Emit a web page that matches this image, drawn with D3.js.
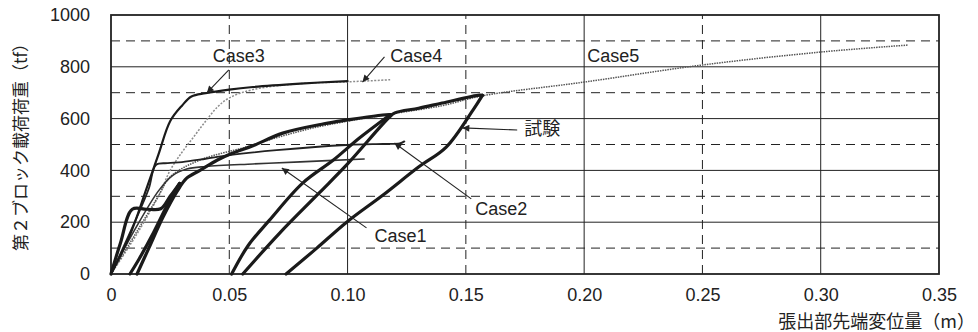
<!DOCTYPE html>
<html>
<head>
<meta charset="utf-8">
<script src="https://d3js.org/d3.v7.min.js"></script>
<style>
  body { margin: 0; background: #fff; }
  text { font-family: "Liberation Sans", Arial, sans-serif; fill: #222; }
  .jp { font-family: "Noto Sans CJK JP", sans-serif; }
</style>
</head>
<body>
<svg id="chart" width="978" height="332"></svg>
<script>
// load–displacement curves, [displacement (m), load (tf)]
// 試験 (test) split into its loading / unloading branches
var testLoad1 = [[0,0],[0.004,120],[0.009,250],[0.015,250],[0.021,252],[0.025,300],[0.029,350]];
var testUnload1 = [[0.029,350],[0.024,270],[0.018,160],[0.012,60],[0.008,0]];
var testLoad2 = [[0.011,0],[0.016,100],[0.022,220],[0.028,320],[0.032,370],[0.0376,400],
  [0.045,440],[0.0515,467],[0.06,495],[0.0726,544],[0.09,580],[0.1,595],[0.1148,614],[0.118,615]];
var testUnload2 = [[0.118,615],[0.105,525],[0.094,440],[0.081,351],[0.067,208],[0.058,110],[0.051,0]];
var testLoad3 = [[0.0557,0],[0.0713,158],[0.088,313],[0.1,425],[0.1177,606],[0.12,622],
  [0.13,640],[0.14,660],[0.1557,691],[0.157,690]];
var testUnload3 = [[0.157,690],[0.153,633],[0.1417,490],[0.13,413],[0.115,305],[0.0996,200],
  [0.087,100],[0.074,0]];
var case1 = [[0,0],[0.01,170],[0.02,320],[0.026,380],[0.032,405],[0.04,415],[0.06,425],
  [0.08,433],[0.107,444]];
var case2 = [[0,0],[0.01,200],[0.016,330],[0.019,421],[0.024,428],[0.03,432],[0.04,445],
  [0.05,459],[0.07,478],[0.0996,498],[0.115,502],[0.122,504],[0.124,512]];
var case3 = [[0,0],[0.008,150],[0.015,330],[0.02,460],[0.025,590],[0.03,650],[0.034,685],
  [0.04,698],[0.05,712],[0.06,722],[0.08,735],[0.1,745]];
var case4 = [[0,0],[0.01,140],[0.02,300],[0.025,400],[0.03,470],[0.035,530],[0.04,590],
  [0.045,645],[0.05,680],[0.06,712],[0.08,735],[0.1,742],[0.118,750]];
var case5 = [[0,0],[0.01,150],[0.02,300],[0.025,375],[0.0376,440],[0.057,490],[0.071,529],
  [0.085,563],[0.1,590],[0.12,620],[0.14,650],[0.157,688],[0.2,741],[0.25,807],[0.3,857],
  [0.337,884]];

var xTicks = [0, 0.05, 0.10, 0.15, 0.20, 0.25, 0.30, 0.35];
var yTicks = [0, 200, 400, 600, 800, 1000];

// labels: [text, x, y] and arrows: [x1, y1, x2, y2] in data units
var labels = [["Case3",0.043,819],["Case4",0.118,819],["Case5",0.2013,819],
  ["試験",0.1747,537],["Case2",0.154,228],["Case1",0.1114,124]];
var arrows = [[0.0498,788,0.0405,699],[0.1156,838,0.1063,741],[0.1717,556,0.1485,564],
  [0.1523,290,0.1198,506],[0.108,178,0.0722,409]];

var svg = d3.select("#chart");
var x = d3.scaleLinear().domain([0, 0.35]).range([111, 939]);
var y = d3.scaleLinear().domain([0, 1000]).range([274, 15]);

// grid: solid at major, dashed at half steps
var g = svg.append("g");
d3.range(100, 1000, 100).forEach(function(v) {
  g.append("line").attr("x1", x(0)).attr("x2", x(0.35)).attr("y1", y(v)).attr("y2", y(v))
    .attr("stroke", "#222").attr("stroke-width", 1)
    .attr("stroke-dasharray", v % 200 ? "9,6" : null);
});
[0.05, 0.10, 0.15, 0.20, 0.25, 0.30].forEach(function(v, i) {
  g.append("line").attr("x1", x(v)).attr("x2", x(v)).attr("y1", y(0)).attr("y2", y(1000))
    .attr("stroke", "#222").attr("stroke-width", 1)
    .attr("stroke-dasharray", i % 2 ? null : "9,6");
});
g.append("rect").attr("x", x(0)).attr("y", y(1000))
  .attr("width", x(0.35) - x(0)).attr("height", y(0) - y(1000))
  .attr("fill", "none").attr("stroke", "#222").attr("stroke-width", 1.8);

// axes (labels only)
var xAxis = svg.append("g").attr("transform", "translate(0," + y(0) + ")")
  .call(d3.axisBottom(x).tickValues(xTicks).tickSize(0).tickPadding(14)
    .tickFormat(function(d) { return d === 0 ? "0" : d3.format(".2f")(d); }));
var yAxis = svg.append("g").attr("transform", "translate(" + x(0) + ",0)")
  .call(d3.axisLeft(y).tickValues(yTicks).tickSize(0).tickPadding(21).tickFormat(d3.format("d")));
[xAxis, yAxis].forEach(function(a) {
  a.select(".domain").remove();
  a.selectAll("text").style("font-size", "18px").attr("fill", "#222")
    .style("font-family", "'Liberation Sans', Arial, sans-serif");
});

// curves
var line = d3.line().curve(d3.curveCatmullRom.alpha(0.5))
  .x(function(d) { return x(d[0]); }).y(function(d) { return y(d[1]); });
var series = [
  {d: case4, c: "#8c8c8c", w: 1.5, dash: "2,1.5"},
  {d: case5, c: "#555", w: 1.5, dash: "1.5,1"},
  {d: case1, c: "#333", w: 1.6, dash: null},
  {d: case2, c: "#222", w: 1.8, dash: null},
  {d: case3, c: "#1a1a1a", w: 2.2, dash: null}
];
var testBranches = [testLoad1, testUnload1, testLoad2, testUnload2, testLoad3, testUnload3];
testBranches.forEach(function(b) { series.push({d: b, c: "#1a1a1a", w: 3.2, dash: null}); });
series.forEach(function(s) {
  svg.append("path").datum(s.d).attr("d", line).attr("fill", "none")
    .attr("stroke", s.c).attr("stroke-width", s.w)
    .attr("stroke-linejoin", "round").attr("stroke-linecap", s.dash ? "butt" : "round")
    .attr("stroke-dasharray", s.dash);
});

// annotations
svg.append("defs").append("marker").attr("id", "ah")
  .attr("viewBox", "0 0 10 10").attr("refX", 10).attr("refY", 5)
  .attr("markerWidth", 9).attr("markerHeight", 7).attr("markerUnits", "userSpaceOnUse")
  .attr("orient", "auto")
  .append("path").attr("d", "M0,0 L10,5 L0,10 z").attr("fill", "#222");
arrows.forEach(function(a) {
  svg.append("line").attr("x1", x(a[0])).attr("y1", y(a[1]))
    .attr("x2", x(a[2])).attr("y2", y(a[3]))
    .attr("stroke", "#222").attr("stroke-width", 1.1).attr("marker-end", "url(#ah)");
});
labels.forEach(function(l) {
  svg.append("text").attr("x", x(l[1])).attr("y", y(l[2]))
    .attr("class", /^Case/.test(l[0]) ? null : "jp")
    .style("font-size", "18px").text(l[0]);
});

// axis titles
svg.append("text").attr("class", "jp").attr("x", 975).attr("y", 328).attr("fill", "#222")
  .attr("text-anchor", "end").style("font-size", "18px").text("張出部先端変位量（m）");
svg.append("text").attr("class", "jp").attr("fill", "#222")
  .attr("transform", "translate(27,143) rotate(-90)")
  .attr("text-anchor", "middle").style("font-size", "17px").text("第２ブロック載荷荷重（tf）");
</script>
</body>
</html>
